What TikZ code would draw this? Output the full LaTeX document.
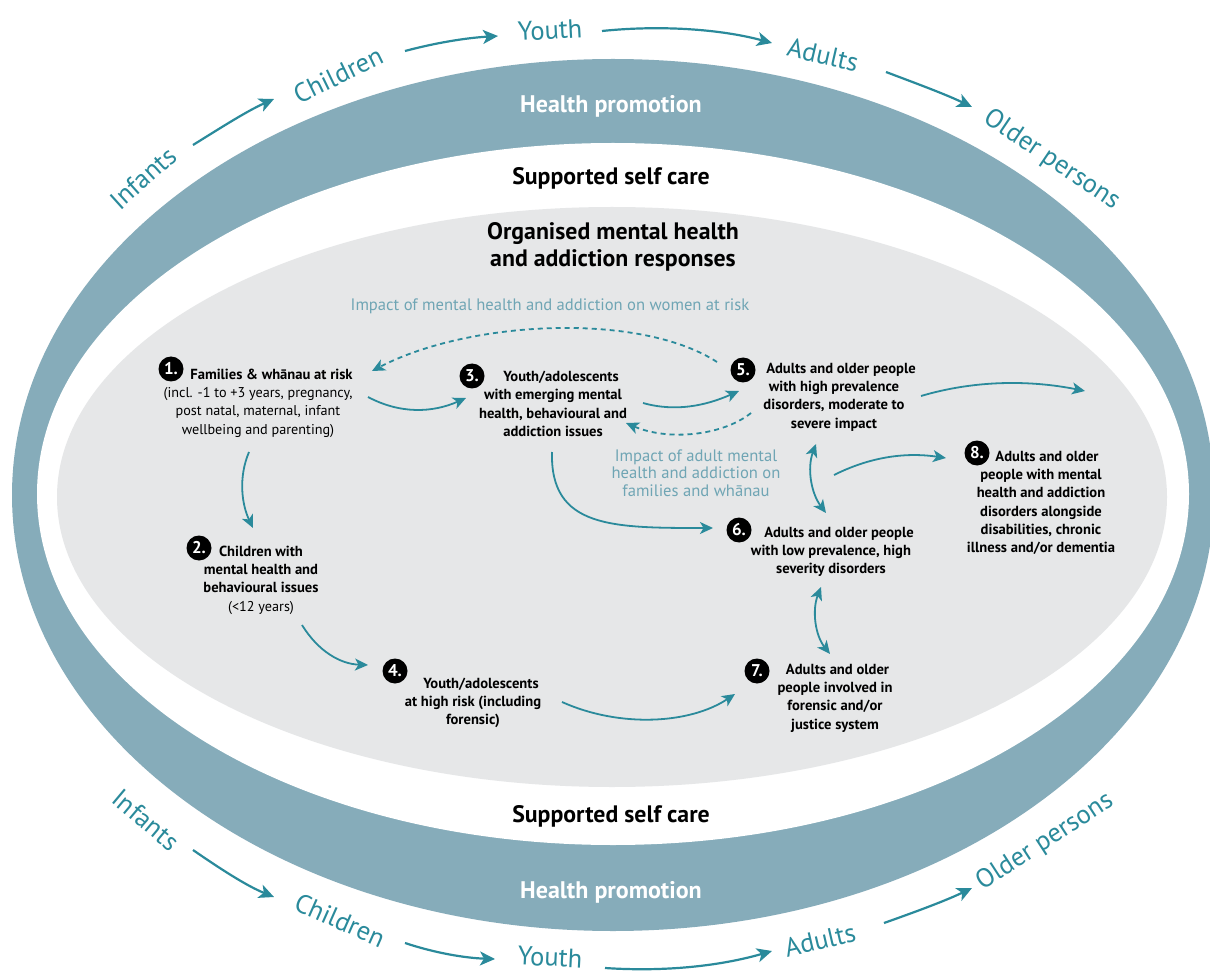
\documentclass[tikz,border=0pt]{standalone}
\usepackage{fontspec}
\setmainfont{PT Sans}
\usetikzlibrary{arrows.meta}
\definecolor{bandc}{HTML}{86ACBA}
\definecolor{grayc}{HTML}{E6E7E8}
\definecolor{tealc}{HTML}{2A8A9B}
\definecolor{ltealc}{HTML}{6FA5B4}
\tikzset{
  agelbl/.style={text=tealc, font=\fontsize{26.5}{30}\selectfont, inner sep=0pt},
  agearrow/.style={draw=tealc, line width=2.2pt, -{Stealth[length=15pt,width=14pt,inset=4pt]}},
  flow/.style={draw=tealc, line width=1.8pt, -{Stealth[length=13pt,width=12pt,inset=3.5pt]}},
  dflow/.style={flow, dash pattern=on 5pt off 4pt},
  bflow/.style={draw=tealc, line width=1.8pt, {Stealth[length=13pt,width=12pt,inset=3.5pt]}-{Stealth[length=13pt,width=12pt,inset=3.5pt]}},
  badge/.style={circle, fill=black, text=white, minimum size=25pt, inner sep=0pt, font=\fontsize{17}{17}\selectfont\bfseries},
  blk/.style={align=center, inner sep=0pt, font=\fontsize{14.6}{18.3}\selectfont\bfseries},
  band/.style={text=white, font=\fontsize{24}{28}\selectfont\bfseries, inner sep=0pt},
  layer/.style={text=black, font=\fontsize{23.8}{27}\selectfont\bfseries, inner sep=0pt, align=center},
  note/.style={text=ltealc, font=\fontsize{16.6}{17.6}\selectfont, inner sep=0pt, align=center}
}
\newcommand{\rg}{\fontsize{14.2}{18.3}\selectfont\mdseries}
\begin{document}
\begin{tikzpicture}[x=1pt,y=-1pt]
\useasboundingbox (0,0) rectangle (1210,973);
\clip (0,0) rectangle (1210,973);
\fill[white] (0,0) rectangle (1210,973);
% rings
\fill[bandc] (613,495) ellipse [x radius=601pt, y radius=436pt];
\fill[white] (613,494) ellipse [x radius=576pt, y radius=351pt];
\fill[grayc] (612,497) ellipse [x radius=555pt, y radius=290pt];

% ring labels
\node[band] (hpt) at (611,106) {Health promotion};
\node[band] (hpb) at (611,892) {Health promotion};
\node[layer] (sst) at (611,178) {Supported self care};
\node[layer] (ssb) at (611,816) {Supported self care};
\node[layer] (org) at (613,247) {Organised mental health\\and addiction responses};

% age labels top
\node[agelbl, rotate=42] (inft) at (143,178) {Infants};
\node[agelbl, rotate=26] (chit) at (338,75) {Children};
\node[agelbl, rotate=3] (yout) at (550,30) {Youth};
\node[agelbl, rotate=-13] (adut) at (823,55) {Adults};
\node[agelbl, rotate=-34] (oldt) at (1052,160) {Older persons};
% age labels bottom
\node[agelbl, rotate=-40] (infb) at (146,820) {Infants};
\node[agelbl, rotate=-24] (chib) at (340,920) {Children};
\node[agelbl, rotate=-3] (youb) at (550,957) {Youth};
\node[agelbl, rotate=13] (adub) at (820,940) {Adults};
\node[agelbl, rotate=33] (oldb) at (1045,842) {Older persons};

% age arrows
\coordinate (t1s) at (193,145); \coordinate (t1e) at (274,99);
\coordinate (t2s) at (405,51);  \coordinate (t2e) at (498,36);
\coordinate (t3s) at (602,31);  \coordinate (t3e) at (772,43);
\coordinate (t4s) at (886,72);  \coordinate (t4e) at (972,107);
\draw[agearrow] (t1s) .. controls (222,127) and (247,111) .. (t1e);
\draw[agearrow] (t2s) .. controls (435,43) and (465,38) .. (t2e);
\draw[agearrow] (t3s) .. controls (660,25) and (720,29) .. (t3e);
\draw[agearrow] (t4s) .. controls (915,83) and (945,94) .. (t4e);
\coordinate (b1s) at (193,850); \coordinate (b1e) at (274,897);
\coordinate (b2s) at (405,943); \coordinate (b2e) at (495,959);
\coordinate (b3s) at (605,968); \coordinate (b3e) at (772,951);
\coordinate (b4s) at (884,923); \coordinate (b4e) at (972,888);
\draw[agearrow] (b1s) .. controls (222,870) and (247,886) .. (b1e);
\draw[agearrow] (b2s) .. controls (435,953) and (465,958) .. (b2e);
\draw[agearrow] (b3s) .. controls (665,972) and (720,966) .. (b3e);
\draw[agearrow] (b4s) .. controls (915,912) and (945,901) .. (b4e);

% notes
\node[note] (women) at (550,306) {Impact of mental health and addiction on women at risk};
\node[note] (famw) at (696,473) {Impact of adult mental\\health and addiction on\\families and wh\=anau};

% blocks
\node[blk] (n1) at (258,403) {\hspace*{27pt}Families \& wh\=anau at risk\\\rg(incl. -1 to +3 years, pregnancy,\\\rg post natal, maternal, infant\\\rg wellbeing and parenting)};
\node[badge] (c1) at (171,369) {1.};
\node[blk] (n2) at (261,580) {Children with\\mental health and\\behavioural issues\\\rg(<12 years)};
\node[badge] (c2) at (199,548) {2.};
\node[blk] (n3) at (553,404) {\hspace*{16pt}Youth/adolescents\\with emerging mental\\health, behavioural and\\addiction issues};
\node[badge] (c3) at (472,376) {3.};
\node[blk] (n4) at (473,703) {\hspace*{16pt}Youth/adolescents\\at high risk (including\\forensic)};
\node[badge] (c4) at (395,671) {4.};
\node[blk] (n5) at (834,397) {\hspace*{14pt}Adults and older people\\with high prevalence\\disorders, moderate to\\severe impact};
\node[badge] (c5) at (743,370) {5.};
\node[blk] (n6) at (831,552) {\hspace*{16pt}Adults and older people\\with low prevalence, high\\severity disorders};
\node[badge] (c6) at (739,530) {6.};
\node[blk] (n7) at (835,698) {\hspace*{5pt}Adults and older\\people involved in\\forensic and/or\\justice system};
\node[badge] (c7) at (757,671) {7.};
\node[blk] (n8) at (1041,503) {\hspace*{12pt}Adults and older\\people with mental\\health and addiction\\disorders alongside\\disabilities, chronic\\illness and/or dementia};
\node[badge] (c8) at (977,453) {8.};

% inner arrows
\coordinate (a12s) at (249,452); \coordinate (a12e) at (253,528);
\draw[flow] (a12s) .. controls (238,478) and (242,505) .. (a12e);
\coordinate (a13s) at (368,397); \coordinate (a13e) at (466,398);
\draw[flow] (a13s) .. controls (400,414) and (432,413) .. (a13e);
\coordinate (a35s) at (643,403); \coordinate (a35e) at (739,391);
\draw[flow] (a35s) .. controls (675,412) and (705,406) .. (a35e);
\coordinate (d51s) at (717,362); \coordinate (d51e) at (372,371);
\draw[dflow] (d51s) .. controls (640,312) and (470,320) .. (d51e);
\coordinate (d53s) at (751,413); \coordinate (d53e) at (626,423);
\draw[dflow] (d53s) .. controls (722,436) and (668,441) .. (d53e);
\coordinate (a5os) at (921,396); \coordinate (a5oe) at (1085,391);
\draw[flow] (a5os) .. controls (975,380) and (1030,380) .. (a5oe);
\coordinate (a36s) at (552,452); \coordinate (a36e) at (713,528);
\draw[flow] (a36s) .. controls (550,528) and (612,528) .. (a36e);
\coordinate (a56s) at (816,444); \coordinate (a56e) at (826,513);
\draw[bflow] (a56s) .. controls (807,468) and (811,493) .. (a56e);
\coordinate (a8s) at (834,475); \coordinate (a8e) at (946,458);
\draw[flow] (a8s) .. controls (870,457) and (905,452) .. (a8e);
\coordinate (a67s) at (821,587); \coordinate (a67e) at (830,654);
\draw[bflow] (a67s) .. controls (812,610) and (815,635) .. (a67e);
\coordinate (a24s) at (302,625); \coordinate (a24e) at (368,665);
\draw[flow] (a24s) .. controls (318,651) and (340,664) .. (a24e);
\coordinate (a47s) at (562,702); \coordinate (a47e) at (735,694);
\draw[flow] (a47s) .. controls (620,728) and (690,724) .. (a47e);
\end{tikzpicture}
\end{document}
